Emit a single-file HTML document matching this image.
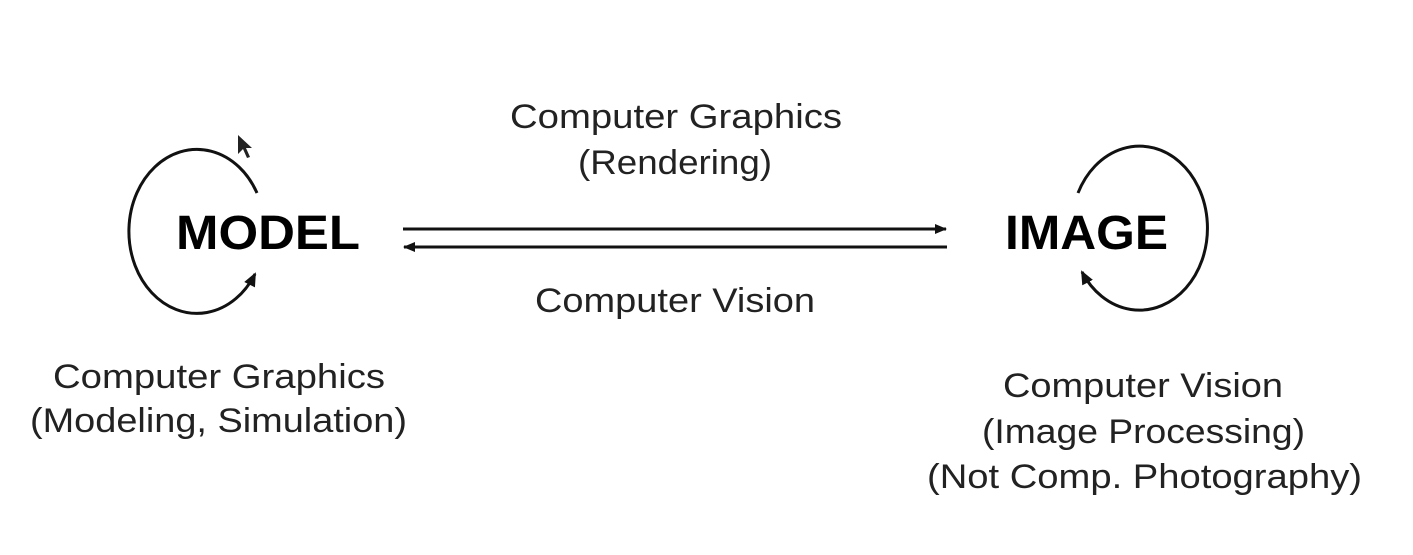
<!DOCTYPE html>
<html><head><style>html,body{margin:0;padding:0;background:#fff}svg{display:block}</style></head>
<body>
<svg width="1413" height="555" viewBox="0 0 1413 555" xmlns="http://www.w3.org/2000/svg">
<defs>
<marker id="ah" markerWidth="12" markerHeight="10" refX="11" refY="5" orient="auto" markerUnits="userSpaceOnUse">
<path d="M0,0 L12,5 L0,10 z" fill="#111"/></marker>
<marker id="ah2" markerWidth="14" markerHeight="12" refX="12" refY="6" orient="auto" markerUnits="userSpaceOnUse">
<path d="M0,0 L14,6 L0,12 z" fill="#111"/></marker>
</defs>
<g font-family="Liberation Sans, Arial, sans-serif" fill="#222" font-size="34">
<text x="510" y="128" textLength="332" lengthAdjust="spacingAndGlyphs">Computer Graphics</text>
<text x="578" y="174" textLength="194" lengthAdjust="spacingAndGlyphs">(Rendering)</text>
<text x="535" y="312" textLength="280" lengthAdjust="spacingAndGlyphs">Computer Vision</text>
<text x="53" y="388" textLength="332" lengthAdjust="spacingAndGlyphs">Computer Graphics</text>
<text x="30" y="432" textLength="377" lengthAdjust="spacingAndGlyphs">(Modeling, Simulation)</text>
<text x="1003" y="397" textLength="280" lengthAdjust="spacingAndGlyphs">Computer Vision</text>
<text x="982" y="443" textLength="323" lengthAdjust="spacingAndGlyphs">(Image Processing)</text>
<text x="927" y="488" textLength="435" lengthAdjust="spacingAndGlyphs">(Not Comp. Photography)</text>
</g>
<g font-family="Liberation Sans, Arial, sans-serif" font-weight="bold" fill="#000" font-size="48">
<text x="176" y="249" textLength="184" lengthAdjust="spacingAndGlyphs">MODEL</text>
<text x="1005" y="249" textLength="163" lengthAdjust="spacingAndGlyphs">IMAGE</text>
</g>
<g stroke="#111" stroke-width="3" fill="none">
<line x1="403" y1="229" x2="946" y2="229" marker-end="url(#ah)"/>
<line x1="947" y1="247" x2="404" y2="247" marker-end="url(#ah)"/>
<path d="M257,193 A68,82 0 1 0 255,274" marker-end="url(#ah2)"/>
<path d="M1078,193 A68,82 0 1 1 1082,272" marker-end="url(#ah2)"/>
</g>
<path d="M238,135 L238,154 L243,149 L247,158 L250,157 L246,148 L252,148 z" fill="#222"/>
</svg>
</body></html>
